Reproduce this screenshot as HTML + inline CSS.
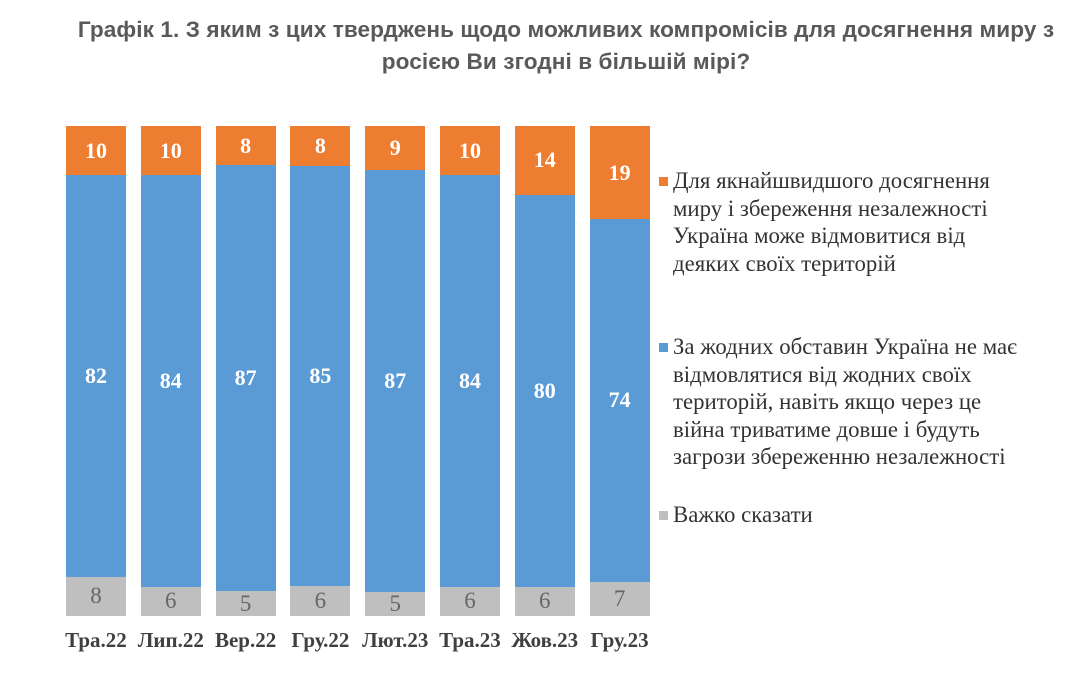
<!DOCTYPE html>
<html><head><meta charset="utf-8"><style>
body{margin:0;width:1089px;height:691px;background:#fff;position:relative;overflow:hidden;font-family:"Liberation Serif",serif}
.t{position:absolute;left:0;width:1132px;text-align:center;font:bold 22.6px/32px "Liberation Sans",sans-serif;color:#595959;top:14px;white-space:nowrap;letter-spacing:0.08px}
.bar{position:absolute;top:126px;width:60px;height:490px}
.s{position:relative;display:flex;align-items:center;justify-content:center;font-weight:bold;font-size:22px;color:#fff}
.o{background:#ed7d31}.b{background:#5b9bd5}.g{background:#bfbfbf;color:#666;font-weight:normal;font-size:23px}
.lab{position:absolute;top:628px;width:90px;text-align:center;font-weight:bold;font-size:21px;color:#404040;white-space:nowrap}
.lg{position:absolute;left:673px;font-size:22.8px;line-height:27.5px;color:#333;white-space:nowrap}
.sq{position:absolute;left:659px;width:9px;height:9px}
</style></head><body>
<div class="t">Графік 1. З яким з цих тверджень щодо можливих компромісів для досягнення миру з<br>росією Ви згодні в більшій мірі?</div>
<div id="c"></div>
<div class="sq o" style="top:177px"></div>
<div class="lg" style="top:167px">Для якнайшвидшого досягнення<br>миру і збереження незалежності<br>Україна може відмовитися від<br>деяких своїх територій</div>
<div class="sq b" style="top:343px"></div>
<div class="lg" style="top:333px">За жодних обставин Україна не має<br>відмовлятися від жодних своїх<br>територій, навіть якщо через це<br>війна триватиме довше і будуть<br>загрози збереженню незалежності</div>
<div class="sq g" style="top:511px"></div>
<div class="lg" style="top:501px">Важко сказати</div>
<script>
var d=[[10,82,8,"Тра.22"],[10,84,6,"Лип.22"],[8,87,5,"Вер.22"],[8,85,6,"Гру.22"],[9,87,5,"Лют.23"],[10,84,6,"Тра.23"],[14,80,6,"Жов.23"],[19,74,7,"Гру.23"]];
var h="";
d.forEach(function(r,i){var x=66+i*74.8,s=r[0]+r[1]+r[2];
h+='<div class="bar" style="left:'+x+'px">';
['o','b','g'].forEach(function(c,j){h+='<div class="s '+c+'" style="height:'+(490*r[j]/s)+'px">'+r[j]+'</div>'});
h+='</div><div class="lab" style="left:'+(x-15)+'px">'+r[3]+'</div>';});
document.getElementById('c').innerHTML=h;
</script>
</body></html>
